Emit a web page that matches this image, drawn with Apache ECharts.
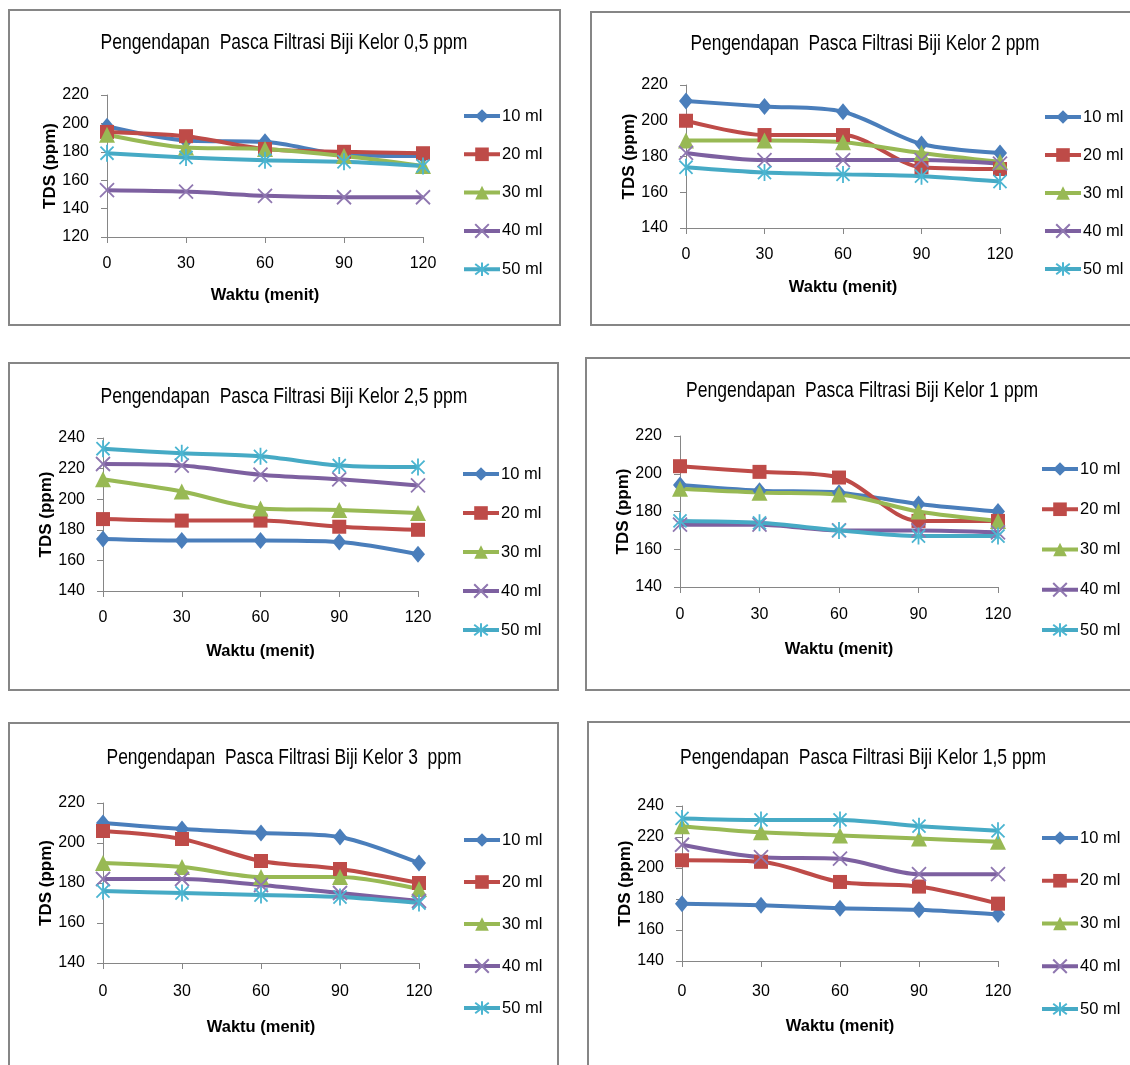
<!DOCTYPE html>
<html>
<head>
<meta charset="utf-8">
<script src="https://cdn.jsdelivr.net/npm/echarts@6/dist/echarts.min.js"></script>
<style>
  html, body { margin: 0; padding: 0; background: #fff; }
  #chart { width: 1130px; height: 1065px; }
</style>
</head>
<body>
<div id="chart"></div>
<script>
// Sampling times (minutes) on the x axis
const waktu = [0, 30, 60, 90, 120];
// Dose series shown in each legend
const volumeLabels = ['10 ml', '20 ml', '30 ml', '40 ml', '50 ml'];

// Chart titles, one per coagulant dose
const titleTexts = [
  'Pengendapan  Pasca Filtrasi Biji Kelor 0,5 ppm',
  'Pengendapan  Pasca Filtrasi Biji Kelor 2 ppm',
  'Pengendapan  Pasca Filtrasi Biji Kelor 2,5 ppm',
  'Pengendapan  Pasca Filtrasi Biji Kelor 1 ppm',
  'Pengendapan  Pasca Filtrasi Biji Kelor 3  ppm',
  'Pengendapan  Pasca Filtrasi Biji Kelor 1,5 ppm'
];

// TDS (ppm) per volume: rows are 10, 20, 30, 40, 50 ml
const tds05ppm = [
  [198, 188, 187, 178, 177],
  [194, 191, 182, 180, 179],
  [192, 183, 182, 177, 170],
  [153, 152, 149, 148, 148],
  [179, 176, 174, 173, 170]
];
const tds2ppm = [
  [211, 208, 205, 187, 182],
  [200, 192, 192, 174, 173],
  [189, 189, 188, 182, 177],
  [182, 178, 178, 178, 176],
  [174, 171, 170, 169, 166]
];
const tds25ppm = [
  [174, 173, 173, 172, 164],
  [187, 186, 186, 182, 180],
  [213, 205, 194, 193, 191],
  [223, 222, 216, 213, 209],
  [233, 230, 228, 222, 221]
];
const tds1ppm = [
  [194, 191, 190, 184, 180],
  [204, 201, 198, 175, 175],
  [192, 190, 189, 180, 175],
  [173, 173, 170, 170, 169],
  [175, 174, 170, 167, 167]
];
const tds3ppm = [
  [210, 207, 205, 203, 190],
  [206, 202, 191, 187, 180],
  [190, 188, 183, 183, 177],
  [182, 182, 179, 175, 171],
  [176, 175, 174, 173, 170]
];
const tds15ppm = [
  [177, 176, 174, 173, 170],
  [205, 204, 191, 188, 177],
  [227, 223, 221, 219, 217],
  [215, 207, 206, 196, 196],
  [232, 231, 231, 227, 224]
];

// y-axis ranges (min, max) for each chart
const yRanges = [[120, 220], [140, 220], [140, 240], [140, 220], [140, 220], [140, 240]];
const yStep = 20;
const xStep = 30;

const panelData = [tds05ppm, tds2ppm, tds25ppm, tds1ppm, tds3ppm, tds15ppm];

// Layout of each framed chart (pixels)
const layouts = [
  { frame: [9, 10, 551, 315],    titleC: [284, 43],  titleW: 367, grid: [107, 95, 316, 142],  legend: [462, 107.5, 21.3],  xName: 50, xMargin: 19 },
  { frame: [591, 12, 560, 313],  titleC: [865, 44],  titleW: 349, grid: [686, 85, 314, 143],  legend: [1043, 108.5, 21],   xName: 51, xMargin: 19 },
  { frame: [9, 363, 549, 327],   titleC: [284, 397], titleW: 367, grid: [103, 438, 315, 153], legend: [461, 465.5, 22],    xName: 52, xMargin: 19 },
  { frame: [586, 358, 560, 332], titleC: [862, 391], titleW: 352, grid: [680, 436, 318, 151], legend: [1040, 460.5, 23.25], xName: 54, xMargin: 20 },
  { frame: [9, 723, 549, 360],   titleC: [284, 758], titleW: 355, grid: [103, 803, 316, 160], legend: [462, 831.5, 25],    xName: 56, xMargin: 21 },
  { frame: [588, 722, 560, 360], titleC: [863, 758], titleW: 366, grid: [682, 806, 316, 155], legend: [1040, 829.5, 25.75], xName: 57, xMargin: 23 }
];

const colors = ['#4A7EBB', '#BE4B48', '#98B954', '#7D60A0', '#46AAC5'];
const markerStroke = ['#4A7EBB', '#BE4B48', '#98B954', '#8F77B0', '#4BB5D1'];
const symbols = [
  'diamond',
  'rect',
  'triangle',
  'path://M0,0L10,10M10,0L0,10',
  'path://M0,0L10,10M10,0L0,10M5,-1.5L5,11.5'
];
const symbolSizes = [[14, 17], 14, 16, 14, 17];

const sans = "'Liberation Sans', Arial, sans-serif";
const axisGray = '#868686';
const titleFontSize = 22;

// condensed look for the titles: measure the regular face, then squeeze horizontally
const measureCtx = document.createElement('canvas').getContext('2d');
measureCtx.font = titleFontSize + 'px ' + sans;

const option = {
  animation: false,
  backgroundColor: '#ffffff',
  grid: [], xAxis: [], yAxis: [], legend: [], series: [], graphic: []
};

layouts.forEach((L, p) => {
  // frame
  option.graphic.push({
    type: 'rect', silent: true, z: -10,
    shape: { x: L.frame[0], y: L.frame[1], width: L.frame[2], height: L.frame[3] },
    style: { fill: '#fff', stroke: axisGray, lineWidth: 2 }
  });
  // title
  const w = measureCtx.measureText(titleTexts[p]).width;
  option.graphic.push({
    type: 'text', silent: true,
    x: L.titleC[0], y: L.titleC[1], scaleX: L.titleW / w, scaleY: 1,
    style: {
      text: titleTexts[p], x: 0, y: 0,
      align: 'center', verticalAlign: 'middle',
      fontSize: titleFontSize, fontFamily: sans, fill: '#000'
    }
  });

  option.grid.push({ left: L.grid[0], top: L.grid[1], width: L.grid[2], height: L.grid[3], containLabel: false });

  option.xAxis.push({
    type: 'value', gridIndex: p, min: waktu[0], max: waktu[waktu.length - 1], interval: xStep,
    name: 'Waktu (menit)', nameLocation: 'middle', nameGap: L.xName,
    nameTextStyle: { fontSize: 16.5, fontWeight: 'bold', fontFamily: sans, color: '#000' },
    axisLine: { show: true, lineStyle: { color: axisGray, width: 1 } },
    axisTick: { show: true, length: 6, lineStyle: { color: axisGray } },
    axisLabel: { fontSize: 16, fontFamily: sans, color: '#000', margin: L.xMargin },
    splitLine: { show: false }
  });

  option.yAxis.push({
    type: 'value', gridIndex: p, min: yRanges[p][0], max: yRanges[p][1], interval: yStep,
    name: 'TDS (ppm)', nameLocation: 'middle', nameGap: 48, nameRotate: 90,
    nameTextStyle: { fontSize: 17, fontWeight: 'bold', fontFamily: sans, color: '#000' },
    axisLine: { show: true, lineStyle: { color: axisGray, width: 1 } },
    axisTick: { show: true, length: 6, lineStyle: { color: axisGray } },
    axisLabel: { fontSize: 16, fontFamily: sans, color: '#000', margin: 18 },
    splitLine: { show: false }
  });

  option.legend.push({
    orient: 'vertical', left: L.legend[0], top: L.legend[1], itemGap: L.legend[2],
    itemWidth: 36, itemHeight: 17, padding: 0,
    lineStyle: { width: 4 },
    textStyle: { fontSize: 16.5, lineHeight: 17, fontFamily: sans, color: '#000', padding: [0, 0, 0, -3] },
    data: volumeLabels.map(n => ({ name: n + '\u200b'.repeat(p) })),
    selectedMode: false
  });

  panelData[p].forEach((row, i) => {
    const isStroke = i >= 3;
    option.series.push({
      type: 'line',
      name: volumeLabels[i] + '\u200b'.repeat(p),
      xAxisIndex: p, yAxisIndex: p,
      data: waktu.map((t, k) => [t, row[k]]),
      smooth: 0.3,
      symbol: symbols[i],
      symbolSize: symbolSizes[i],
      symbolKeepAspect: true,
      showSymbol: true,
      lineStyle: { color: colors[i], width: 4 },
      itemStyle: isStroke
        ? { color: colors[i], borderColor: markerStroke[i], borderWidth: 1.8 }
        : { color: colors[i], borderWidth: 0 },
      emphasis: { disabled: true },
      z: 2
    });
  });
});

const chart = echarts.init(document.getElementById('chart'), null, { renderer: 'canvas' });
chart.setOption(option);
</script>
</body>
</html>
